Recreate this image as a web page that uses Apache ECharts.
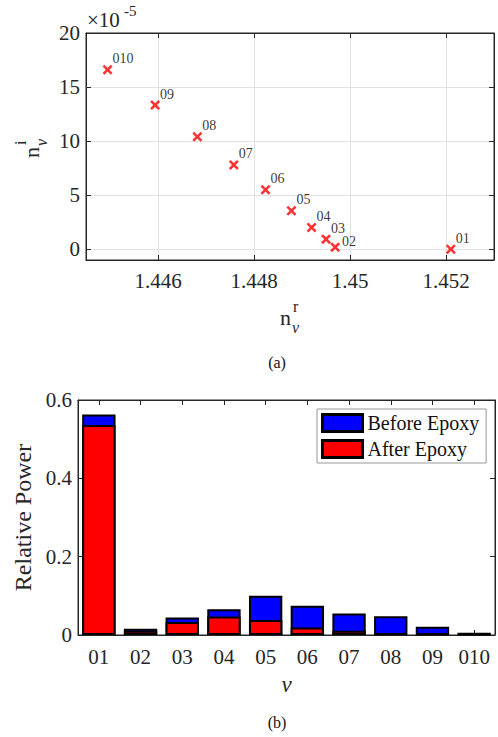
<!DOCTYPE html>
<html>
<head>
<meta charset="utf-8">
<script src="https://cdn.jsdelivr.net/npm/echarts@6/dist/echarts.min.js"></script>
<style>
  html, body { margin: 0; padding: 0; background: #fff; }
  #chart { width: 498px; height: 737px; }
</style>
</head>
<body>
<div id="chart"></div>
<script>
// mode names (used for point labels and bar categories)
const modes = ['01', '02', '03', '04', '05', '06', '07', '08', '09', '010'];
// (a) real and imaginary part of effective index (imag in units of 1e-5)
const nReal = [1.45210, 1.44969, 1.44950, 1.44920, 1.44878, 1.44824, 1.44758, 1.44682, 1.44594, 1.44495];
const nImag = [0.0, 0.19, 0.93, 2.0, 3.55, 5.5, 7.8, 10.4, 13.33, 16.6];
const xTicksA = [1.446, 1.448, 1.45, 1.452];
const yTicksA = [0, 5, 10, 15, 20];
// (b) relative power per mode
const powerBefore = [0.563, 0.016, 0.045, 0.066, 0.100, 0.075, 0.055, 0.048, 0.021, 0.006];
const powerAfter = [0.536, 0.011, 0.033, 0.047, 0.038, 0.019, 0.011, 0.004, 0.002, 0.002];

const FONT = '"Liberation Serif", "DejaVu Serif", serif';
const AX = '#262626';

const myChart = echarts.init(document.getElementById('chart'), null, { renderer: 'svg' });

// label of mode 02 sits to the right of its marker, others above-right
const scatterData = nReal.map((x, i) => {
  let d = { value: [x, nImag[i]], name: modes[i] };
  if (i === 1) d.label = { position: [12, -8] };
  return d;
});

// cross marker as a filled polygon
const crossPath = 'path://M0,1.8L1.8,0L5,3.2L8.2,0L10,1.8L6.8,5L10,8.2L8.2,10L5,6.8L1.8,10L0,8.2L3.2,5Z';

function boxAxis(base) {
  return Object.assign({
    z: 5,
    axisLine: { show: true, onZero: false, lineStyle: { color: AX, width: 1 } },
    axisTick: { show: true, inside: true, length: 5, lineStyle: { color: AX } },
    axisLabel: { show: false },
    splitLine: { show: false }
  }, base);
}

const options = {
  animation: false,
  textStyle: { fontFamily: FONT },
  grid: [
    { left: 86, top: 33, width: 408, height: 227, show: true, borderColor: AX, borderWidth: 1 },
    { left: 78, top: 400, width: 417, height: 235, show: true, borderColor: AX, borderWidth: 1 }
  ],
  legend: {
    data: ['Before Epoxy', 'After Epoxy'],
    orient: 'vertical',
    left: 317,
    top: 409,
    itemWidth: 40,
    itemHeight: 17,
    itemGap: 6,
    padding: [4, 7, 4, 4],
    backgroundColor: '#fff',
    borderColor: '#999',
    borderWidth: 1,
    icon: 'rect',
    itemStyle: { borderColor: '#000', borderWidth: 3 },
    textStyle: { fontFamily: FONT, fontSize: 20, color: '#111' }
  },
  xAxis: [
    {
      type: 'value', gridIndex: 0, min: 1.4445, max: 1.453,
      axisLine: { show: true, onZero: false, lineStyle: { color: AX } },
      axisTick: { show: true, inside: true, length: 5, customValues: xTicksA, lineStyle: { color: AX } },
      axisLabel: { customValues: xTicksA, fontSize: 21, color: AX, margin: 10, fontFamily: FONT },
      splitLine: { show: true, lineStyle: { color: '#e2e2e2' } }
    },
    boxAxis({ type: 'value', gridIndex: 0, position: 'top', min: 1.4445, max: 1.453,
      axisTick: { show: true, inside: true, length: 5, customValues: xTicksA, lineStyle: { color: AX } },
      axisLabel: { show: false, customValues: xTicksA } }),
    {
      type: 'category', gridIndex: 1, data: modes,
      axisLine: { show: true, onZero: false, lineStyle: { color: AX } },
      axisTick: { show: true, inside: true, length: 5, alignWithLabel: true, lineStyle: { color: AX } },
      axisLabel: { fontSize: 21, color: AX, margin: 11, fontFamily: FONT },
      name: 'ν', nameLocation: 'middle', nameGap: 38,
      nameTextStyle: { fontSize: 23, fontStyle: 'italic', color: AX, fontFamily: FONT }
    },
    boxAxis({ type: 'category', gridIndex: 1, position: 'top', data: modes,
      axisTick: { show: true, inside: true, length: 5, alignWithLabel: true, lineStyle: { color: AX } } })
  ],
  yAxis: [
    {
      type: 'value', gridIndex: 0, min: -1, max: 20,
      axisLine: { show: true, onZero: false, lineStyle: { color: AX } },
      axisTick: { show: true, inside: true, length: 5, customValues: yTicksA, lineStyle: { color: AX } },
      axisLabel: { customValues: yTicksA, fontSize: 21, color: AX, margin: 6, fontFamily: FONT },
      splitLine: { show: true, lineStyle: { color: '#e2e2e2' } }
    },
    boxAxis({ type: 'value', gridIndex: 0, position: 'right', min: -1, max: 20,
      axisTick: { show: true, inside: true, length: 5, customValues: yTicksA, lineStyle: { color: AX } },
      axisLabel: { show: false, customValues: yTicksA } }),
    {
      type: 'value', gridIndex: 1, min: 0, max: 0.6, interval: 0.2,
      axisLine: { show: true, onZero: false, lineStyle: { color: AX } },
      axisTick: { show: true, inside: true, length: 5, lineStyle: { color: AX } },
      axisLabel: { fontSize: 21, color: AX, margin: 6, fontFamily: FONT },
      splitLine: { show: false },
      name: 'Relative Power', nameLocation: 'middle', nameGap: 37,
      nameTextStyle: { fontSize: 24, color: AX, fontFamily: FONT }
    },
    boxAxis({ type: 'value', gridIndex: 1, position: 'right', min: 0, max: 0.6, interval: 0.2 })
  ],
  series: [
    {
      type: 'scatter', xAxisIndex: 0, yAxisIndex: 0,
      data: scatterData,
      symbol: crossPath, symbolSize: 10,
      itemStyle: { color: '#ff0000' },
      label: {
        show: true, position: [10, -13],
        formatter: '{b}', fontSize: 14, color: '#000', fontFamily: FONT
      }
    },
    {
      // invisible twin so the top/right box axes of (a) get drawn
      type: 'scatter', xAxisIndex: 1, yAxisIndex: 1, silent: true,
      data: scatterData.map(d => d.value), symbolSize: 0,
      itemStyle: { opacity: 0 }
    },
    {
      name: 'Before Epoxy', type: 'bar', xAxisIndex: 2, yAxisIndex: 2,
      data: powerBefore, barWidth: '80%', barGap: '-100%',
      itemStyle: { color: '#0000ff', borderColor: '#000', borderWidth: 2 }
    },
    {
      name: 'After Epoxy', type: 'bar', xAxisIndex: 2, yAxisIndex: 2,
      data: powerAfter, barWidth: '80%', barGap: '-100%',
      itemStyle: { color: '#ff0000', borderColor: '#000', borderWidth: 2 }
    }
  ],
  graphic: [
    // x10^-5 exponent
    { type: 'text', x: 87, y: 20, style: { text: '×10', font: '21px ' + FONT, fill: AX, textVerticalAlign: 'middle' } },
    { type: 'text', x: 124, y: 11, style: { text: '-5', font: '15px ' + FONT, fill: AX, textVerticalAlign: 'middle' } },
    // x label n_nu^r
    { type: 'text', x: 280, y: 317, style: { text: 'n', font: '22px ' + FONT, fill: AX, textVerticalAlign: 'middle' } },
    { type: 'text', x: 293, y: 306, style: { text: 'r', font: '16px ' + FONT, fill: AX, textVerticalAlign: 'middle' } },
    { type: 'text', x: 292, y: 327, style: { text: 'ν', font: 'italic 16px ' + FONT, fill: AX, textVerticalAlign: 'middle' } },
    // y label n_nu^i (rotated)
    { type: 'text', x: 31, y: 158, rotation: Math.PI / 2, style: { text: 'n', font: '22px ' + FONT, fill: AX, textVerticalAlign: 'middle' } },
    { type: 'text', x: 20, y: 145, rotation: Math.PI / 2, style: { text: 'i', font: '16px ' + FONT, fill: AX, textVerticalAlign: 'middle' } },
    { type: 'text', x: 41, y: 146, rotation: Math.PI / 2, style: { text: 'ν', font: 'italic 16px ' + FONT, fill: AX, textVerticalAlign: 'middle' } },
    // subfigure captions
    { type: 'text', x: 277, y: 362, style: { text: '(a)', font: '16px ' + FONT, fill: '#111', textAlign: 'center', textVerticalAlign: 'middle' } },
    { type: 'text', x: 277, y: 722, style: { text: '(b)', font: '16px ' + FONT, fill: '#111', textAlign: 'center', textVerticalAlign: 'middle' } }
  ]
};

myChart.setOption(options);
</script>
</body>
</html>
